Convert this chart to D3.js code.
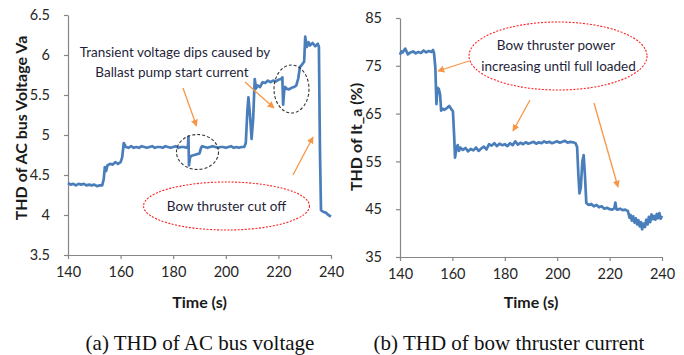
<!DOCTYPE html>
<html>
<head>
<meta charset="utf-8">
<script src="https://cdn.jsdelivr.net/npm/d3@7"></script>
<style>
  html, body { margin: 0; padding: 0; background: #fff; }
  svg { display: block; }
  .tick text { font-family: Lato, "Open Sans", sans-serif; font-size: 14.5px; fill: #262626; }
</style>
</head>
<body>
<svg id="fig" width="684" height="355"></svg>
<script>
// ---- THD of AC bus voltage (%), sampled over time (s) ----
const voltTime = [
  140,141,142,143,144,145,146,147,148,149,150,151,152,153,153.6,154,154.5,155,156,157,158,159,160,160.6,161.2,
  162,163,164,165,166,167,168,169,170,171,172,173,174,175,176,177,178,179,180,181,182,183,184,185,185.6,185.8,186.0,186.4,
  187,188,189,190,190.6,191,192,193,194,195,196,197,198,199,200,201,202,203,204,205,206,207,207.6,208.2,208.6,209.2,209.8,210.4,211.0,211.5,
  212,213,214,215,216,217,218,219,220,221,221.5,221.8,222.2,222.6,223,224,225,226,226.8,227.5,228.2,229,229.8,230.2,230.8,231.5,
  232,233,234,235,235.4,235.8,236.2,237,238,239,240
];
const voltValue = [
  4.40,4.38,4.39,4.37,4.39,4.38,4.39,4.37,4.38,4.37,4.38,4.36,4.37,4.37,4.45,4.60,4.55,4.62,4.64,4.63,4.66,4.64,4.66,4.72,4.90,
  4.85,4.84,4.86,4.84,4.85,4.84,4.86,4.85,4.84,4.85,4.86,4.84,4.85,4.85,4.84,4.86,4.85,4.84,4.85,4.86,4.84,4.85,4.85,4.84,4.86,4.98,4.62,4.72,
  4.74,4.75,4.76,4.77,4.84,4.86,4.85,4.84,4.85,4.86,4.85,4.84,4.85,4.85,4.84,4.85,4.86,4.84,4.85,4.84,4.85,4.85,4.90,5.30,5.47,5.25,4.95,5.20,5.70,5.58,
  5.62,5.60,5.66,5.65,5.68,5.66,5.68,5.67,5.69,5.70,5.72,5.38,5.55,5.60,5.58,5.57,5.59,5.60,5.62,5.70,5.85,5.88,5.92,6.23,6.10,6.16,
  6.12,6.15,6.11,6.14,6.10,4.80,4.06,4.04,4.03,4.00,3.98
];

// ---- THD of bow thruster current It_a (%), sampled over time (s) ----
const currTime = [
  140,140.5,141,142,142.5,143,144,145,146,147,148,149,150,151,152,152.6,153,153.5,153.9,154.3,154.8,155.3,155.7,156.3,157,158,158.8,159.5,160.2,160.7,161.0,161.5,
  162,162.5,163,164,165,166,167,168,169,170,171,172,173,174,175,176,177,178,179,180,181,182,183,184,185,186,187,188,189,190,
  191,192,193,194,195,196,197,198,199,200,201,202,203,204,205,206,207,207.6,208.1,208.5,209.0,209.6,210.1,210.6,211.1,
  212,213,214,215,216,217,218,219,220,221,221.8,222.2,222.6,223,224,225,226,227,227.6,228,228.5,229,229.5,230,230.5,231,231.5,
  232,232.4,233,233.5,234,234.5,235,235.5,236,236.5,237,237.5,238,238.5,239,239.5,240
];
const currValue = [
  77.3,78.0,77.8,78.6,78.0,77.4,77.8,78.0,77.6,77.9,77.7,78.2,77.8,78.1,77.9,78.3,77.6,74.5,67.0,70.4,70.2,69.0,65.6,66.0,65.8,66.2,66.6,66.0,65.5,60.0,55.8,57.6,
  58.4,57.2,57.9,57.4,57.8,57.1,57.6,57.3,57.9,57.2,57.7,58.1,57.5,58.6,58.3,58.8,58.2,58.7,58.4,58.6,58.2,58.8,58.4,59.2,58.5,58.9,58.6,59.0,58.7,58.9,
  59.1,58.7,59.0,58.8,59.2,58.9,59.1,58.8,59.0,59.2,58.9,59.1,59.3,58.9,59.1,59.0,58.8,58.0,52.0,48.3,49.5,55.0,56.3,52.0,46.3,
  45.9,46.1,45.6,45.9,45.4,45.6,45.1,45.3,45.0,44.9,45.2,46.4,45.0,44.9,45.1,44.8,44.9,44.6,43.2,43.8,42.6,43.5,42.2,43.1,41.8,42.7,41.4,
  42.3,40.8,42.0,41.3,42.8,41.8,43.4,42.3,43.9,42.9,43.6,42.8,44.0,43.1,44.2,43.0,43.6
];

const timeTicks = [140, 160, 180, 200, 220, 240];
const voltTicks = [3.5, 4, 4.5, 5, 5.5, 6, 6.5];
const currTicks = [35, 45, 55, 65, 75, 85];

const LINE = "#4a7ebb", AXIS = "#868686", ORANGE = "#f79646";
const sansFont = 'Lato, "Open Sans", sans-serif';
const svg = d3.select("#fig");

const defs = svg.append("defs");
defs.append("marker")
  .attr("id", "arrow").attr("viewBox", "0 0 10 10")
  .attr("refX", 9).attr("refY", 5)
  .attr("markerWidth", 7).attr("markerHeight", 7)
  .attr("markerUnits", "userSpaceOnUse")
  .attr("orient", "auto")
  .append("path").attr("d", "M0,0 L10,5 L0,10 z").attr("fill", ORANGE);

function panel(cfg) {
  const g = svg.append("g");
  const x = d3.scaleLinear().domain([140, 240]).range(cfg.xr);
  const y = d3.scaleLinear().domain(cfg.yd).range(cfg.yr);

  const xAxis = g.append("g").attr("transform", `translate(0,${cfg.yr[0]})`)
    .call(d3.axisBottom(x).tickValues(timeTicks).tickSize(4).tickSizeOuter(0).tickPadding(8));
  const yAxis = g.append("g").attr("transform", `translate(${cfg.xr[0]},0)`)
    .call(d3.axisLeft(y).tickValues(cfg.ticks).tickSize(4).tickSizeOuter(0).tickPadding(14)
      .tickFormat(cfg.fmt));
  [xAxis, yAxis].forEach(a => {
    a.select(".domain").attr("stroke", AXIS).attr("stroke-width", 1.2);
    a.selectAll(".tick line").attr("stroke", AXIS).attr("stroke-width", 1.2);
  });

  const pts = cfg.t.map((t, i) => [t, cfg.v[i]]);
  g.append("path").datum(pts)
    .attr("fill", "none").attr("stroke", LINE).attr("stroke-width", 2.7)
    .attr("stroke-linejoin", "round")
    .attr("d", d3.line().x(d => x(d[0])).y(d => y(d[1])));

  // axis titles
  g.append("text").attr("x", (cfg.xr[0] + cfg.xr[1]) / 2).attr("y", 308)
    .attr("text-anchor", "middle").attr("font-family", sansFont)
    .attr("font-weight", "bold").attr("font-size", 16).attr("fill", "#1a1a1a")
    .text("Time (s)");
  g.append("text")
    .attr("transform", `translate(${cfg.ytx},${cfg.yty}) rotate(-90)`)
    .attr("text-anchor", "middle").attr("font-family", sansFont)
    .attr("font-weight", "bold").attr("font-size", 16).attr("fill", "#1a1a1a")
    .text(cfg.ytitle);

  // caption
  g.append("text").attr("x", cfg.capx).attr("y", 350)
    .attr("text-anchor", "middle").attr("font-family", '"Liberation Serif", "Times New Roman", serif')
    .attr("font-size", 21).attr("fill", "#111")
    .text(cfg.caption);
  return { g, x, y };
}

const A = panel({
  xr: [68, 331], yr: [255, 15], yd: [3.5, 6.5], ticks: voltTicks, fmt: d3.format(""),
  t: voltTime, v: voltValue, ytitle: "THD of AC bus Voltage Va", ytx: 27, yty: 128,
  caption: "(a) THD of AC bus voltage", capx: 200
});
const B = panel({
  xr: [400, 662], yr: [257, 18], yd: [35, 85], ticks: currTicks, fmt: d3.format(""),
  t: currTime, v: currValue, ytitle: "THD of It_a (%)", ytx: 362, yty: 137,
  caption: "(b) THD of bow thruster current", capx: 509
});

function arrow(g, x1, y1, x2, y2) {
  g.append("line").attr("x1", x1).attr("y1", y1).attr("x2", x2).attr("y2", y2)
    .attr("stroke", ORANGE).attr("stroke-width", 1.3).attr("marker-end", "url(#arrow)");
}
function ellipse(g, cx, cy, rx, ry, color, dash) {
  g.append("ellipse").attr("cx", cx).attr("cy", cy).attr("rx", rx).attr("ry", ry)
    .attr("fill", "none").attr("stroke", color).attr("stroke-width", 1.1)
    .attr("stroke-dasharray", dash);
}
function label(g, x, y, s) {
  g.append("text").attr("x", x).attr("y", y).attr("text-anchor", "middle")
    .attr("font-family", sansFont).attr("font-size", 13.5).attr("fill", "#1f1f3a").text(s);
}

// annotations, left panel
label(A.g, 175, 57, "Transient voltage dips caused  by");
label(A.g, 172, 77, "Ballast pump start current");
arrow(A.g, 183, 88, 196.5, 126);
arrow(A.g, 245, 82, 274, 108);
ellipse(A.g, 197.5, 152, 21, 17.5, "#333", "3,2");
ellipse(A.g, 291.5, 89, 17.5, 24, "#333", "3,2");
arrow(A.g, 293, 175, 313, 137);
ellipse(A.g, 226.5, 206, 83, 24, "#ff2020", "2,1.5");
label(A.g, 226.5, 211, "Bow thruster cut off");

// annotations, right panel
ellipse(B.g, 558, 56, 89, 34, "#ff2020", "2,1.5");
label(B.g, 556, 50, "Bow thruster power");
label(B.g, 558.5, 71, "increasing until full loaded");
arrow(B.g, 469, 61, 438, 71);
arrow(B.g, 530, 100, 513, 131);
arrow(B.g, 594, 103, 618, 187);
</script>
</body>
</html>
